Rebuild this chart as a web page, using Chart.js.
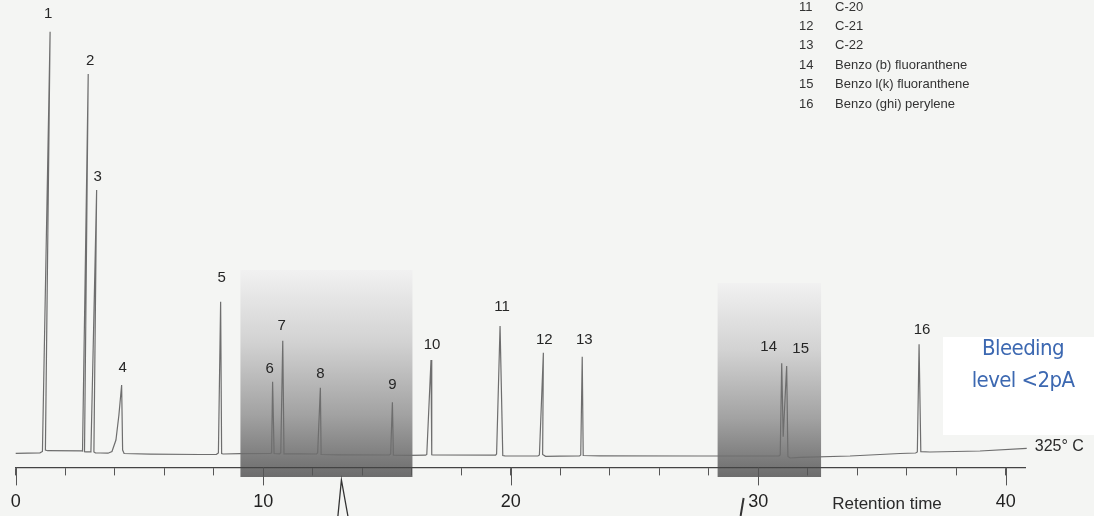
<!DOCTYPE html>
<html>
<head>
<meta charset="utf-8">
<script src="https://cdn.jsdelivr.net/npm/chart.js"></script>
<style>
  html, body { margin: 0; padding: 0; background: #f4f5f3; }
  #wrap { width: 1094px; height: 516px; position: relative; }
</style>
</head>
<body>
<div id="wrap"><canvas id="chrom"></canvas></div>
<script>
// detector trace: retention time (min) and signal
const traceTime = [
  0.00, 0.98, 1.08, 1.39, 1.20, 1.29, 2.68, 2.70, 2.93, 2.78, 2.84, 3.02, 3.04, 3.27, 3.16, 3.22,
  3.41, 3.73, 3.89, 4.05, 4.17, 4.28, 4.32, 4.38, 5.43, 7.45, 8.11, 8.19, 8.28, 8.32, 8.38,
  9.06, 10.27, 10.34, 10.38, 10.44, 10.66, 10.71, 10.79, 10.84, 11.49, 12.15, 12.20, 12.31, 12.34,
  13.10, 15.10, 15.15, 15.22, 15.26, 15.93, 16.56, 16.61, 16.78, 16.81, 16.86, 19.39, 19.43, 19.57,
  19.68, 19.77, 21.10, 21.16, 21.32, 21.29, 21.41, 21.99, 22.78, 22.83, 22.89, 22.93, 23.61, 27.65,
  30.84, 30.89, 30.95, 31.01, 31.15, 31.20, 31.29, 31.69, 33.71, 35.73, 36.36, 36.43, 36.50, 36.57,
  36.94, 38.96, 40.85
];
const traceSignal = [
  0.7, 1.2, 2.5, 422.3, 4.0, 3.3, 3.2, 3.0, 380.0, 2.3, 2.2, 2.2, 3.0, 264.0, 2.0, 1.2,
  1.0, 0.8, 2.5, 14.0, 39.0, 69.0, 4.0, 0.5, -0.2, -0.5, -0.3, 1.0, 152.3, 0.5, 0.0,
  0.3, 0.5, 1.0, 72.3, 0.5, 0.2, 1.0, 113.3, 0.2, 0.1, 0.0, 1.0, 66.3, -0.5,
  -0.8, -1.0, 0.0, 51.7, -1.2, -1.3, -1.2, -0.5, 94.0, -0.8, -1.0, -1.2, 0.0, 128.0,
  -1.5, -1.8, -2.0, -1.0, 101.3, -0.5, -2.3, -2.2, -2.0, -1.0, 97.3, -1.5, -1.8, -2.0,
  -2.0, -1.0, 90.7, 17.3, 88.0, -2.5, -4.0, -3.3, -2.0, 0.5, 1.0, 2.0, 109.7, 2.3,
  2.0, 3.0, 5.7
];

// numbered peaks
const peakNumbers = [1, 2, 3, 4, 5, 6, 7, 8, 9, 10, 11, 12, 13, 14, 15, 16];
const peakTimes = [1.39, 2.93, 3.27, 4.28, 8.28, 10.38, 10.79, 12.31, 15.22, 16.78, 19.57, 21.32, 22.89, 30.95, 31.15, 36.50];
const peakHeights = [422.3, 380, 264, 69, 152.3, 72.3, 113.3, 66.3, 51.7, 94, 128, 101.3, 97.3, 90.7, 88, 109.7];

// peak key (the visible part of it)
const compoundIds = [11, 12, 13, 14, 15, 16];
const compoundNames = ['C-20', 'C-21', 'C-22', 'Benzo (b) fluoranthene', 'Benzo l(k) fluoranthene', 'Benzo (ghi) perylene'];

// shaded sections of the run, in minutes, and how high they reach on the signal scale
const shadedStart = [9.08, 28.36];
const shadedEnd = [16.03, 32.54];
const shadedTop = [184, 171];

const xMin = 0, xMax = 40.8;
const yMin = -13.4, yMax = 454;

// label nudges in px [dx, dy above peak top]
const labelNudge = {
  1: [-2, 18], 2: [2, 13], 3: [1, 13], 4: [1, 17], 5: [1, 24], 6: [-3, 13], 7: [-1, 15], 8: [0, 14],
  9: [0, 17], 10: [1, 15], 11: [2, 19], 12: [1, 13], 13: [2, 17], 14: [-13, 16], 15: [14, 17], 16: [3, 14]
};

const FONT = '"Liberation Sans", Arial, Helvetica, sans-serif';

const decor = {
  id: 'decor',
  beforeDraw(chart) {
    const { ctx, scales: { x, y } } = chart;
    ctx.save();
    ctx.fillStyle = '#f4f5f3';
    ctx.fillRect(0, 0, chart.width, chart.height);

    shadedStart.forEach((s, i) => {
      const left = x.getPixelForValue(s);
      const right = x.getPixelForValue(shadedEnd[i]);
      const top = y.getPixelForValue(shadedTop[i]);
      const bottom = y.getPixelForValue(-23);
      const g = ctx.createLinearGradient(0, top, 0, bottom);
      g.addColorStop(0, '#f1f1f1');
      g.addColorStop(0.35, '#d2d2d2');
      g.addColorStop(0.7, '#a2a2a2');
      g.addColorStop(1, '#6c6c6c');
      ctx.fillStyle = g;
      ctx.fillRect(left, top, right - left, bottom - top);
    });

    // note box
    ctx.fillStyle = '#ffffff';
    ctx.fillRect(943, 337, chart.width - 943, 98);
    ctx.restore();
  },
  afterDatasetsDraw(chart) {
    const { ctx, scales: { x, y } } = chart;
    ctx.save();

    // longer marks at every 10 min
    ctx.strokeStyle = '#555';
    ctx.lineWidth = 1;
    x.ticks.forEach(t => {
      if (t.value % 10 !== 0) return;
      const px = Math.round(x.getPixelForValue(t.value)) + 0.5;
      ctx.beginPath();
      ctx.moveTo(px, chart.chartArea.bottom);
      ctx.lineTo(px, chart.chartArea.bottom + 18);
      ctx.stroke();
    });

    // peak numbers
    ctx.font = '15px ' + FONT;
    ctx.fillStyle = '#262626';
    ctx.textAlign = 'center';
    ctx.textBaseline = 'middle';
    peakNumbers.forEach((n, i) => {
      const nd = labelNudge[n] || [0, 15];
      ctx.fillText(String(n), x.getPixelForValue(peakTimes[i]) + nd[0], y.getPixelForValue(peakHeights[i]) - nd[1]);
    });

    // key
    ctx.font = '13px ' + FONT;
    ctx.fillStyle = '#333';
    ctx.textAlign = 'left';
    compoundIds.forEach((id, i) => {
      const py = 7 + i * 19.4;
      ctx.fillText(String(id), 799, py);
      ctx.fillText(compoundNames[i], 835, py);
    });

    // oven temperature at the end of the trace
    const last = traceTime.length - 1;
    ctx.font = '16px ' + FONT;
    ctx.fillStyle = '#2a2a2a';
    ctx.fillText('325° C', x.getPixelForValue(traceTime[last]) + 8, y.getPixelForValue(traceSignal[last]) - 2);

    // axis title
    ctx.font = '17px ' + FONT;
    ctx.textAlign = 'center';
    ctx.fillText('Retention time', 887, 504);

    // bleed note
    ctx.font = 'condensed 22px "DejaVu Sans", sans-serif';
    ctx.fontStretch = 'condensed';
    ctx.letterSpacing = '-0.6px';
    ctx.fillStyle = '#3c68b1';
    ctx.fillText('Bleeding', 1023, 349);
    ctx.fillText('level <2pA', 1023, 381);
    ctx.fontStretch = 'normal';
    ctx.letterSpacing = '0px';

    // break marks under the axis
    ctx.strokeStyle = '#333';
    ctx.lineWidth = 1.3;
    const b1 = x.getPixelForValue(13.16);
    ctx.beginPath();
    ctx.moveTo(b1 - 3.5, 516);
    ctx.lineTo(b1, 480);
    ctx.lineTo(b1 + 6.5, 516);
    ctx.stroke();
    const b2 = x.getPixelForValue(29.35);
    ctx.lineWidth = 2;
    ctx.beginPath();
    ctx.moveTo(b2 + 1.5, 498);
    ctx.lineTo(b2 - 1.5, 516);
    ctx.stroke();
    ctx.restore();
  }
};

new Chart(document.getElementById('chrom'), {
  type: 'line',
  data: {
    datasets: [{
      data: traceTime.map((t, i) => ({ x: t, y: traceSignal[i] })),
      borderColor: '#6e6e6e',
      borderWidth: 1.2,
      pointRadius: 0,
      fill: false,
      tension: 0,
      clip: false
    }]
  },
  options: {
    responsive: true,
    maintainAspectRatio: false,
    animation: false,
    events: [],
    layout: { padding: { left: 15.7, right: 68.5, top: 0, bottom: 0 } },
    plugins: { legend: { display: false }, tooltip: { enabled: false } },
    scales: {
      x: {
        type: 'linear',
        min: xMin,
        max: xMax,
        afterFit: s => { s.height = 48.6; s.paddingLeft = 0; s.paddingRight = 0; },
        border: { display: true, color: '#444', width: 1.2 },
        grid: { drawOnChartArea: false, drawTicks: true, tickLength: 8, tickColor: '#555', tickWidth: 1 },
        ticks: {
          stepSize: 2,
          includeBounds: false,
          autoSkip: false,
          maxRotation: 0,
          padding: 15.8,
          color: '#222',
          font: { family: FONT, size: 18 },
          callback: v => (v % 10 === 0 ? String(v) : '')
        }
      },
      y: { display: false, min: yMin, max: yMax }
    }
  },
  plugins: [decor]
});
</script>
</body>
</html>
